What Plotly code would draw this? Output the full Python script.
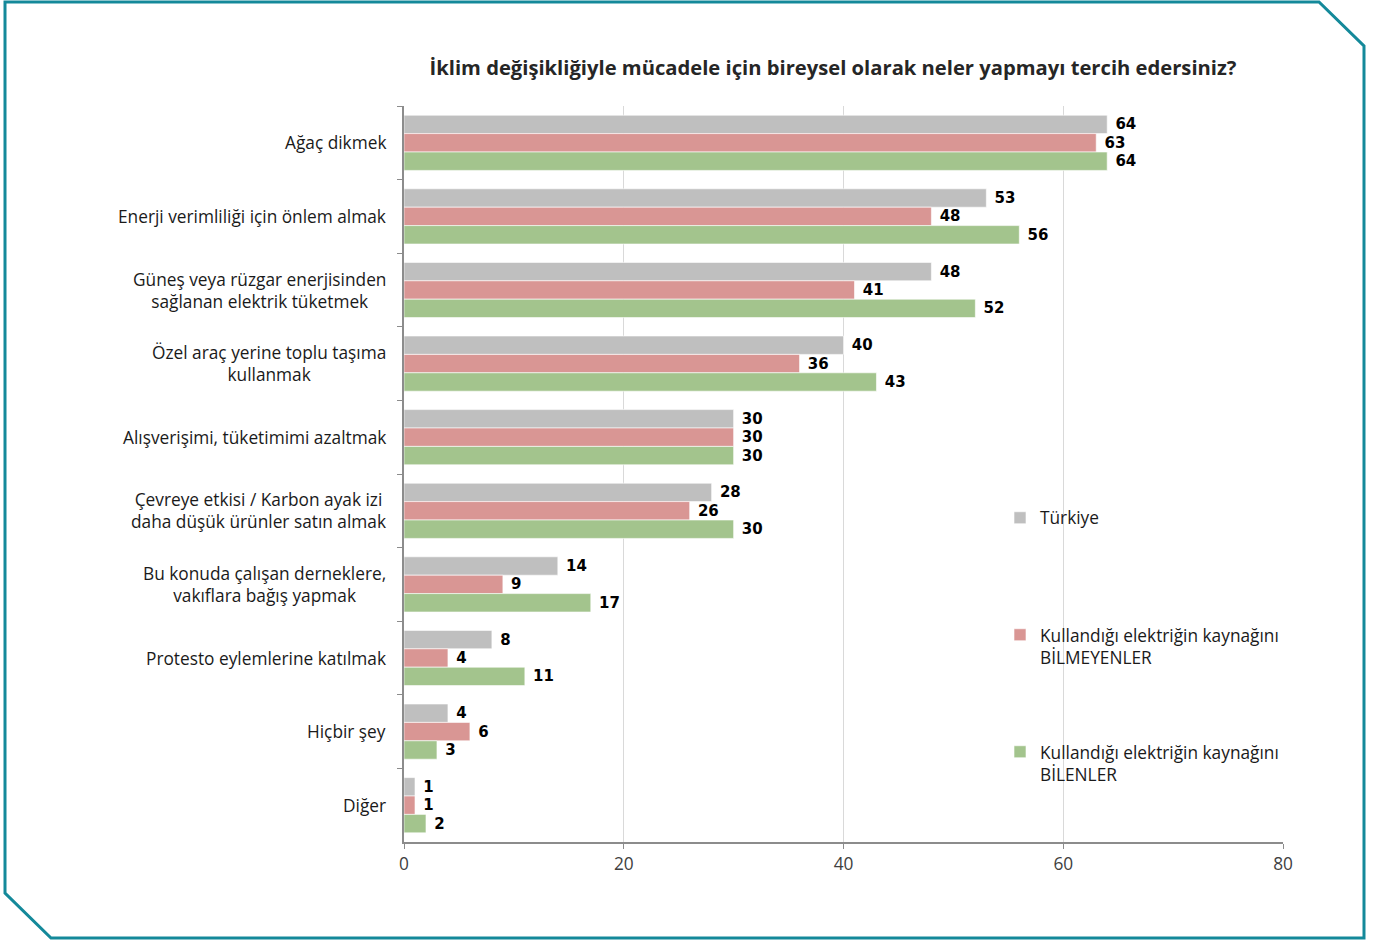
import plotly.graph_objects as go

categories = [
    "Ağaç dikmek",
    "Enerji verimliliği için önlem almak",
    "Güneş veya rüzgar enerjisinden<br>sağlanan elektrik tüketmek",
    "Özel araç yerine toplu taşıma<br>kullanmak",
    "Alışverişimi, tüketimimi azaltmak",
    "Çevreye etkisi / Karbon ayak izi<br>daha düşük ürünler satın almak",
    "Bu konuda çalışan derneklere,<br>vakıflara bağış yapmak",
    "Protesto eylemlerine katılmak",
    "Hiçbir şey",
    "Diğer",
]
turkiye = [64, 53, 48, 40, 30, 28, 14, 8, 4, 1]
bilmeyenler = [63, 48, 41, 36, 30, 26, 9, 4, 6, 1]
bilenler = [64, 56, 52, 43, 30, 30, 17, 11, 3, 2]

series_names = [
    "Türkiye",
    "Kullandığı elektriğin kaynağını<br>BİLMEYENLER",
    "Kullandığı elektriğin kaynağını<br>BİLENLER",
]
series_values = [turkiye, bilmeyenler, bilenler]
colors = ["#BFBFBF", "#D99694", "#A3C48D"]
legend_ids = ["legend", "legend2", "legend3"]

x_ticks = [0, 20, 40, 60, 80]

W, H = 1379, 942
ML, MR, MT, MB = 404, 96, 106, 100
PW, PH = W - ML - MR, H - MT - MB

def px(x, y):
    return (x - ML) / PW, (H - MB - y) / PH

LABEL_FONT = "Open Sans"
LABEL_SIZE = 17.3

fig = go.Figure()
for name, vals, col, lg in zip(series_names, series_values, colors, legend_ids):
    fig.add_trace(go.Bar(
        y=categories, x=vals, orientation="h", name=name,
        marker=dict(color=col, line=dict(color="rgba(255,255,255,0.6)", width=1)),
        text=["\u00a0" + str(v) for v in vals],
        textposition="outside",
        textfont=dict(family="DejaVu Sans", size=15, color="#000000", weight="bold"),
        cliponaxis=False,
        legend=lg,
    ))

legend_common = dict(
    bgcolor="rgba(0,0,0,0)", font=dict(family=LABEL_FONT, size=LABEL_SIZE, color="#1a1a1a"),
    xanchor="left", yanchor="middle", valign="top", itemwidth=30,
)
ly = [518, 646, 763]
lx, _ = px(1000, 0)
layout_legends = {}
for lg, y in zip(legend_ids, ly):
    d = dict(legend_common)
    d["x"] = lx
    d["y"] = px(0, y)[1]
    layout_legends[lg] = d

annotations = []
for c in categories:
    annotations.append(dict(
        x=0, xref="paper", y=c, yref="y", xanchor="right", xshift=-16,
        text=c, showarrow=False, align="center",
        font=dict(family=LABEL_FONT, size=LABEL_SIZE, color="#1a1a1a"),
    ))

pts = [(5, 2), (1319, 2), (1364, 46), (1364, 938), (51, 938), (5, 893)]
path = "M " + " L ".join(f"{px(x, y)[0]:.5f},{px(x, y)[1]:.5f}" for x, y in pts) + " Z"

fig.update_layout(
    width=W, height=H,
    margin=dict(l=ML, r=MR, t=MT, b=MB),
    paper_bgcolor="white", plot_bgcolor="white",
    barmode="group", bargap=0.25, bargroupgap=0,
    showlegend=True,
    title=dict(
        text="İklim değişikliğiyle mücadele için bireysel olarak neler yapmayı tercih edersiniz?",
        x=(833 - ML) / PW, xref="paper", xanchor="center", y=1 - 68 / H, yanchor="middle",
        font=dict(family="Open Sans", size=20.2, color="#262626", weight="bold"),
    ),
    xaxis=dict(
        range=[0, 80], tickvals=x_ticks, ticktext=[str(t) for t in x_ticks],
        showgrid=True, gridcolor="#D9D9D9", gridwidth=1,
        showline=True, linecolor="#8C8C8C", linewidth=1.5,
        ticks="outside", ticklen=5, tickcolor="#8C8C8C",
        tickfont=dict(family=LABEL_FONT, size=LABEL_SIZE, color="#404040"),
        zeroline=False, fixedrange=True,
    ),
    yaxis=dict(
        autorange="reversed", showticklabels=False, tickson="boundaries",
        ticks="outside", ticklen=5, tickcolor="#8C8C8C",
        showline=True, linecolor="#8C8C8C", linewidth=1.5, showgrid=False,
        fixedrange=True,
    ),
    annotations=annotations,
    shapes=[dict(type="path", path=path, xref="paper", yref="paper",
                 line=dict(color="#14899A", width=3))],
    **layout_legends,
)

fig.write_html(
    "out.html",
    config={"displayModeBar": False},
    post_script="document.body.style.margin='0';document.body.style.overflow='hidden';",
)
